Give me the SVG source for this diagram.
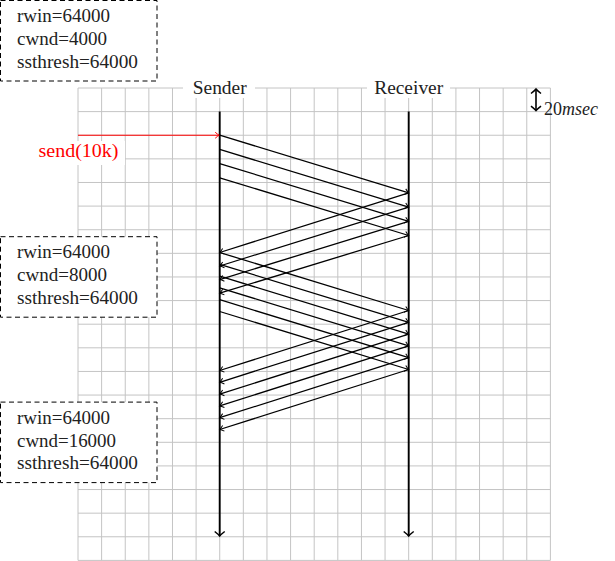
<svg xmlns="http://www.w3.org/2000/svg" width="615" height="561" viewBox="0 0 615 561">
<style>
.grid{fill:none;stroke:#c4c4c4;stroke-width:1}
.tl{fill:none;stroke:#000;stroke-width:1.9}
.msg{fill:none;stroke:#000;stroke-width:1.3;marker-end:url(#tip)}
.lbl{font-family:"Liberation Serif","Times New Roman",serif;font-size:18px;fill:#222}
.box{fill:#fff;stroke:#000;stroke-width:1;stroke-dasharray:5 3.5}
.bg{fill:#fff;stroke:none}
</style>
<defs>
<marker id="tip" viewBox="-6 -5 8 10" refX="0" refY="0" markerWidth="8" markerHeight="10" markerUnits="userSpaceOnUse" orient="auto">
<path d="M-4,-3 Q-1.5,-0.8 0,0 Q-1.5,0.8 -4,3" fill="none" stroke="#000" stroke-width="1"/>
</marker>
<marker id="tipred" viewBox="-6 -5 8 10" refX="0" refY="0" markerWidth="8" markerHeight="10" markerUnits="userSpaceOnUse" orient="auto">
<path d="M-4,-3 Q-1.5,-0.8 0,0 Q-1.5,0.8 -4,3" fill="none" stroke="#f00" stroke-width="1"/>
</marker>
<marker id="big" viewBox="-7 -7 9 14" refX="0" refY="0" markerWidth="9" markerHeight="14" markerUnits="userSpaceOnUse" orient="auto-start-reverse">
<path d="M-4.5,-5 Q-1.5,-1.2 0,0 Q-1.5,1.2 -4.5,5" fill="none" stroke="#000" stroke-width="1.5"/>
</marker>
</defs>

<g id="grid">
<path class="grid" d="M78,88V560.4M101.62,88V560.4M125.24,88V560.4M148.86,88V560.4M172.48,88V560.4M196.1,88V560.4M219.72,88V560.4M243.34,88V560.4M266.96,88V560.4M290.58,88V560.4M314.2,88V560.4M337.82,88V560.4M361.44,88V560.4M385.06,88V560.4M408.68,88V560.4M432.3,88V560.4M455.92,88V560.4M479.54,88V560.4M503.16,88V560.4M526.78,88V560.4M550.4,88V560.4
M78,88H550.4M78,111.62H550.4M78,135.24H550.4M78,158.86H550.4M78,182.48H550.4M78,206.1H550.4M78,229.72H550.4M78,253.34H550.4M78,276.96H550.4M78,300.58H550.4M78,324.2H550.4M78,347.82H550.4M78,371.44H550.4M78,395.06H550.4M78,418.68H550.4M78,442.3H550.4M78,465.92H550.4M78,489.54H550.4M78,513.16H550.4M78,536.78H550.4M78,560.4H550.4"/>
</g>

<g id="sender">
<rect class="bg" x="183" y="78" width="72" height="20"/>
<text class="lbl" x="219.7" y="94" text-anchor="middle" textLength="54" lengthAdjust="spacingAndGlyphs">Sender</text>
<path class="tl" d="M219.7,111.6V536" marker-end="url(#big)"/>
</g>

<g id="receiver">
<rect class="bg" x="367" y="78" width="83" height="20"/>
<text class="lbl" x="408.7" y="94" text-anchor="middle" textLength="69" lengthAdjust="spacingAndGlyphs">Receiver</text>
<path class="tl" d="M408.7,111.6V536" marker-end="url(#big)"/>
</g>

<g id="scale">
<path d="M536,89V110.6" fill="none" stroke="#000" stroke-width="1.6" marker-start="url(#big)" marker-end="url(#big)"/>
<text class="lbl" x="544" y="114.5">20<tspan font-style="italic">msec</tspan></text>
</g>

<g id="send">
<rect class="bg" x="33" y="141" width="92" height="24"/>
<text class="lbl" x="78.5" y="157" text-anchor="middle" style="fill:#f00" textLength="80" lengthAdjust="spacingAndGlyphs">send(10k)</text>
</g>

<g id="connectors">
<path d="M78,135.24H219.2" fill="none" stroke="#f00" stroke-width="1" marker-end="url(#tipred)"/>
<path class="msg" d="M219.7,135.2L408.7,192.9"/>
<path class="msg" d="M219.7,149.4L408.7,207.1"/>
<path class="msg" d="M219.7,163.6L408.7,221.3"/>
<path class="msg" d="M219.7,177.8L408.7,235.5"/>
<path class="msg" d="M408.7,192.9L219.7,252.5"/>
<path class="msg" d="M408.7,207.1L219.7,266.0"/>
<path class="msg" d="M408.7,221.3L219.7,279.6"/>
<path class="msg" d="M408.7,235.5L219.7,293.2"/>
<path class="msg" d="M219.7,252.5L408.7,310.5"/>
<path class="msg" d="M219.7,264.3L408.7,322.3"/>
<path class="msg" d="M219.7,276.1L408.7,334.1"/>
<path class="msg" d="M219.7,287.9L408.7,345.9"/>
<path class="msg" d="M219.7,299.7L408.7,357.7"/>
<path class="msg" d="M219.7,311.5L408.7,369.5"/>
<path class="msg" d="M408.7,310.5L219.7,370.5"/>
<path class="msg" d="M408.7,322.3L219.7,382.3"/>
<path class="msg" d="M408.7,334.1L219.7,394.1"/>
<path class="msg" d="M408.7,345.9L219.7,405.9"/>
<path class="msg" d="M408.7,357.7L219.7,417.7"/>
<path class="msg" d="M408.7,369.5L219.7,429.5"/>
</g>

<g id="state1">
<rect class="box" x="0.5" y="0.5" width="156.5" height="80.5"/>
<text class="lbl" x="17" y="22.3" textLength="93" lengthAdjust="spacingAndGlyphs">rwin=64000</text>
<text class="lbl" x="17" y="45" textLength="90" lengthAdjust="spacingAndGlyphs">cwnd=4000</text>
<text class="lbl" x="17" y="67.9" textLength="121" lengthAdjust="spacingAndGlyphs">ssthresh=64000</text>
</g>

<g id="state2">
<rect class="box" x="0.5" y="236.7" width="156.5" height="80.5"/>
<text class="lbl" x="17" y="258.4" textLength="93" lengthAdjust="spacingAndGlyphs">rwin=64000</text>
<text class="lbl" x="17" y="281.3" textLength="90" lengthAdjust="spacingAndGlyphs">cwnd=8000</text>
<text class="lbl" x="17" y="304.1" textLength="121" lengthAdjust="spacingAndGlyphs">ssthresh=64000</text>
</g>

<g id="state3">
<rect class="box" x="0.5" y="402.1" width="156.5" height="80.5"/>
<text class="lbl" x="17" y="423.8" textLength="93" lengthAdjust="spacingAndGlyphs">rwin=64000</text>
<text class="lbl" x="17" y="446.6" textLength="99" lengthAdjust="spacingAndGlyphs">cwnd=16000</text>
<text class="lbl" x="17" y="469.4" textLength="121" lengthAdjust="spacingAndGlyphs">ssthresh=64000</text>
</g>
</svg>
